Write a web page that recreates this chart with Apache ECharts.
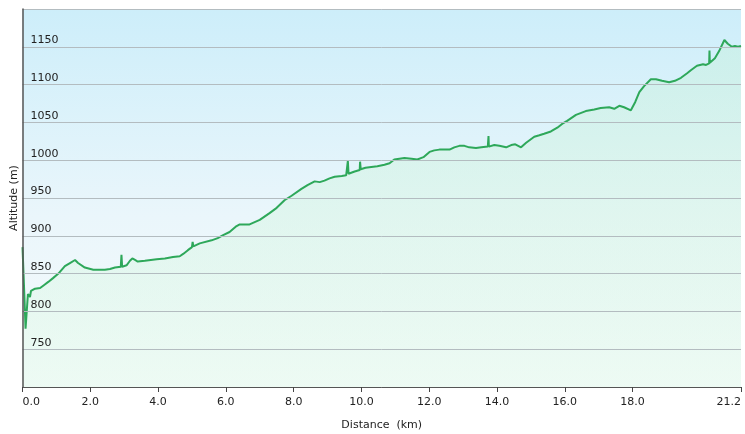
<!DOCTYPE html>
<html>
<head>
<meta charset="utf-8">
<script src="https://cdn.jsdelivr.net/npm/echarts@6/dist/echarts.min.js"></script>
<style>html,body{margin:0;padding:0;background:#fff}#c{width:745px;height:434px}</style>
</head>
<body>
<div id="c"></div>
<script>
const distanceKm = [0.00,0.06,0.09,0.14,0.16,0.19,0.22,0.25,0.37,0.52,0.64,0.76,0.90,1.06,1.25,1.40,1.55,1.64,1.84,2.09,2.43,2.58,2.73,2.90,2.92,2.94,3.07,3.17,3.24,3.32,3.40,3.61,3.96,4.20,4.44,4.64,4.74,4.88,5.00,5.02,5.04,5.23,5.58,5.76,5.92,6.11,6.29,6.41,6.70,7.00,7.29,7.50,7.73,7.94,8.23,8.41,8.62,8.77,8.91,9.06,9.21,9.42,9.55,9.60,9.62,9.80,9.95,9.96,9.98,10.12,10.29,10.47,10.68,10.83,10.97,11.12,11.27,11.48,11.65,11.83,12.01,12.15,12.30,12.60,12.74,12.89,13.04,13.18,13.38,13.54,13.73,13.75,13.76,13.92,14.07,14.27,14.42,14.54,14.71,14.86,15.10,15.25,15.39,15.59,15.78,15.92,16.07,16.33,16.62,16.87,17.06,17.31,17.46,17.61,17.75,17.95,18.08,18.20,18.34,18.54,18.69,18.87,19.08,19.25,19.43,19.61,19.72,19.90,20.08,20.17,20.26,20.27,20.28,20.43,20.55,20.71,20.81,20.93,21.02,21.11,21.20];
const altitudeM = [885,815,777,777,823,824,819,827,830,831,835,839,844,850,860,864,868,864,858,855,855,856,858,859,875,859,861,867,870,868,866,867,869,870,872,873,876,881,885,892,886,890,894,897,901,905,912,915,915,921,930,937,947,953,962,967,972,971,973,976,978,979,980,999,982,985,987,998,988,990,991,992,994,996,1001,1002,1003,1002,1001,1004,1011,1013,1014,1014,1017,1019,1019,1017,1016,1017,1018,1032,1018,1020,1019,1017,1020,1021,1017,1023,1031,1033,1035,1038,1043,1048,1052,1060,1065,1067,1069,1070,1068,1072,1070,1066,1077,1090,1098,1107,1107,1105,1103,1105,1109,1115,1119,1125,1127,1126,1128,1145,1129,1135,1144,1159,1154,1150,1151,1150,1151];
const xTicks = [0,2,4,6,8,10,12,14,16,18,21.2];
const yMin = 700, yMax = 1200, yStep = 50;

const chart = echarts.init(document.getElementById('c'), null, {renderer:'canvas'});
const font = 'Verdana, "DejaVu Sans", sans-serif';
chart.setOption({
  animation:false,
  grid:{left:22.5,right:4,top:9,bottom:47,show:true,borderWidth:0,containLabel:false,outerBoundsMode:'none',
    backgroundColor:new echarts.graphic.LinearGradient(0,0,0,1,[
      {offset:0,color:'#cdeefa'},{offset:0.55,color:'#eaf6fb'},{offset:1,color:'#f6fbfc'}])},
  xAxis:{type:'value',min:0,max:21.2,z:5,
    name:'Distance  (km)',nameLocation:'middle',nameGap:33,nameMoveOverlap:false,
    nameTextStyle:{fontFamily:font,fontSize:11,color:'#222'},
    axisLine:{show:true,lineStyle:{color:'#555',width:1}},
    axisTick:{show:true,length:5,lineStyle:{color:'#444'},customValues:xTicks},
    axisLabel:{fontFamily:font,fontSize:11,color:'#222',margin:10,customValues:xTicks,
      alignMinLabel:'left',alignMaxLabel:'right',hideOverlap:false,
      formatter:v=>v.toFixed(1)},
    splitLine:{show:false}},
  yAxis:{type:'value',min:yMin,max:yMax,interval:yStep,z:5,
    name:'Altitude (m)',nameLocation:'middle',nameGap:3,nameRotate:90,nameMoveOverlap:false,
    nameTextStyle:{fontFamily:font,fontSize:11,color:'#222'},
    axisLine:{show:true,lineStyle:{color:'#555',width:1.5}},
    axisTick:{show:false},
    axisLabel:{inside:true,fontFamily:font,fontSize:11,color:'#222',margin:8,
      verticalAlign:'bottom',padding:[0,0,1,0],showMinLabel:false,showMaxLabel:false,
      formatter:v=>String(v)},
    splitLine:{show:true,lineStyle:{color:'#b3bcc0',width:1}}},
  series:[{type:'line',data:distanceKm.map((d,i)=>[d,altitudeM[i]]),
    showSymbol:false,symbol:'none',z:3,
    lineStyle:{color:'#2ea85a',width:2},
    areaStyle:{origin:'start',color:new echarts.graphic.LinearGradient(0,0,0,1,[
      {offset:0,color:'rgba(190,240,205,0.45)'},{offset:1,color:'rgba(225,250,232,0.6)'}])}}]
});
</script>
</body>
</html>
